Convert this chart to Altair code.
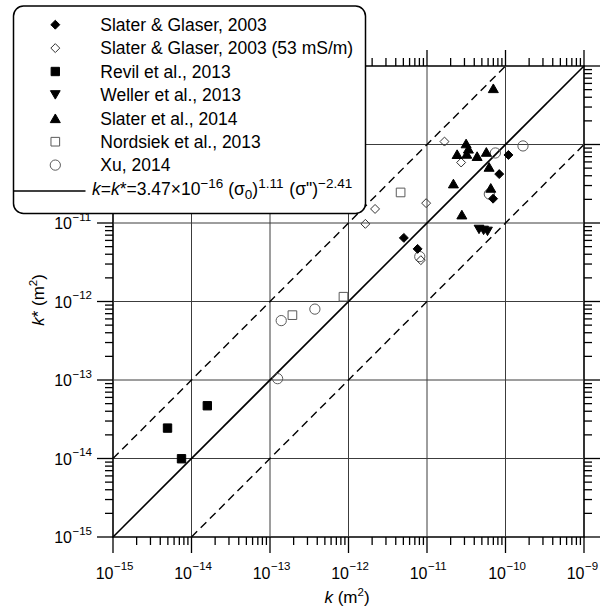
import altair as alt
import pandas as pd

FONT = "Liberation Sans"
W, H = 471, 471

# ---------------- data (k, k* in m^2) ----------------
series = [
    "Slater & Glaser, 2003",
    "Slater & Glaser, 2003 (53 mS/m)",
    "Revil et al., 2013",
    "Weller et al., 2013",
    "Slater et al., 2014",
    "Nordsiek et al., 2013",
    "Xu, 2014",
]
sg03_k = [1.09e-10, 8.32e-11, 6.95e-11, 5.07e-12, 7.59e-12]
sg03_kstar = [7.36e-11, 4.20e-11, 2.04e-11, 6.46e-12, 4.68e-12]
sg03b_k = [1.67e-11, 2.72e-11, 9.75e-12, 2.18e-12, 1.64e-12, 8.34e-12]
sg03b_kstar = [1.09e-10, 5.90e-11, 1.79e-11, 1.51e-11, 9.75e-12, 3.36e-12]
revil_k = [1.59e-14, 4.95e-15, 7.46e-15]
revil_kstar = [4.70e-14, 2.44e-14, 9.93e-15]
weller_k = [4.60e-11, 5.26e-11, 5.90e-11]
weller_kstar = [8.28e-12, 8.05e-12, 7.82e-12]
slater14_k = [7.00e-11, 3.15e-11, 2.42e-11, 3.37e-11, 3.21e-11, 4.35e-11,
              5.70e-11, 6.18e-11, 2.17e-11, 6.49e-11, 2.78e-11]
slater14_kstar = [5.20e-10, 1.03e-10, 7.53e-11, 8.83e-11, 7.59e-11, 7.11e-11,
                  8.04e-11, 5.18e-11, 3.18e-11, 2.80e-11, 1.28e-11]
nord_k = [4.61e-12, 8.63e-13, 1.93e-13]
nord_kstar = [2.45e-11, 1.15e-12, 6.70e-13]
xu_k = [1.67e-10, 7.43e-11, 6.22e-11, 8.09e-12, 3.73e-13, 1.39e-13, 1.25e-13]
xu_kstar = [9.59e-11, 7.80e-11, 2.34e-11, 3.73e-12, 8.00e-13, 5.71e-13, 1.04e-13]

k_lists = [sg03_k, sg03b_k, revil_k, weller_k, slater14_k, nord_k, xu_k]
kstar_lists = [sg03_kstar, sg03b_kstar, revil_kstar, weller_kstar, slater14_kstar, nord_kstar, xu_kstar]

decade_exps = [-15, -14, -13, -12, -11, -10, -9]
minor_mults = [2, 3, 4, 5, 6, 7, 8, 9]
LO, HI = 1e-15, 1e-9

# model lines: k* = k, and factor-of-ten bounds
line_solid_k = [1e-15, 1e-9]
line_solid_kstar = [1e-15, 1e-9]
line_up_k = [1e-15, 1e-10]
line_up_kstar = [1e-14, 1e-9]
line_lo_k = [1e-14, 1e-9]
line_lo_kstar = [1e-15, 1e-10]

# ---------------- styles ----------------
shapes = ["diamond", "diamond", "square", "triangle-down", "triangle-up", "square", "circle"]
fills = ["black", "transparent", "black", "black", "black", "transparent", "transparent"]
leg_fills = ["black", "white", "black", "black", "black", "white", "white"]
strokes = ["black", "#333333", "black", "black", "black", "#5a5a5a", "#5a5a5a"]
sizes = [80, 80, 70, 95, 100, 75, 105]
draw_order = [5, 6, 1, 0, 2, 3, 4]  # open markers first

decades = [10.0 ** e for e in decade_exps]
minors = [m * 10.0 ** e for e in decade_exps[:-1] for m in minor_mults]

rows = []
# outward axis ticks: line symbols anchored on the frame, pointing outwards
MAJ, MIN = 16, 8
for vals, ln in [(decades, MAJ), (minors, MIN)]:
    for v in vals:
        for kk, ks, path in [(v, LO, "M0,0L0,2"), (v, HI, "M0,0L0,-2"),
                             (LO, v, "M0,0L-2,0"), (HI, v, "M0,0L2,0")]:
            rows.append(dict(series="tick", k=kk, kstar=ks, shape=path, fill="transparent",
                             stroke="black", size=ln * ln, sw=1.3))
for i in draw_order:
    for kv, ksv in zip(k_lists[i], kstar_lists[i]):
        rows.append(dict(series=series[i], k=kv, kstar=ksv, shape=shapes[i],
                         fill=fills[i], stroke=strokes[i], size=sizes[i], sw=1.0))
pts = pd.DataFrame(rows)

xs = alt.Scale(type="log", domain=[LO, HI], nice=False)
ys = alt.Scale(type="log", domain=[LO, HI], nice=False)
inner_df = pd.DataFrame({"v": decades[1:-1]})

lines_df = pd.DataFrame({
    "k": line_solid_k + line_up_k + line_lo_k,
    "kstar": line_solid_kstar + line_up_kstar + line_lo_kstar,
    "grp": ["solid"] * 2 + ["up"] * 2 + ["lo"] * 2,
})

X = lambda f: alt.X(f, scale=xs, axis=None)
Y = lambda f: alt.Y(f, scale=ys, axis=None)

# gridlines
grid_v = alt.Chart(inner_df).mark_rule(color="#3c3c3c", strokeWidth=1).encode(
    x=X("v:Q"), y=alt.value(0), y2=alt.value(H))
grid_h = alt.Chart(inner_df).mark_rule(color="#3c3c3c", strokeWidth=1).encode(
    y=Y("v:Q"), x=alt.value(0), x2=alt.value(W))

solid = alt.Chart(lines_df[lines_df.grp == "solid"]).mark_line(
    color="black", strokeWidth=1.6).encode(x=X("k:Q"), y=Y("kstar:Q"))
dashed = alt.Chart(lines_df[lines_df.grp != "solid"]).mark_line(
    color="black", strokeWidth=1.4, strokeDash=[8, 5]).encode(
    x=X("k:Q"), y=Y("kstar:Q"), detail="grp:N")
points = alt.Chart(pts).mark_point(opacity=1).encode(
    x=X("k:Q"), y=Y("kstar:Q"),
    shape=alt.Shape("shape:N", scale=None, legend=None),
    fill=alt.Fill("fill:N", scale=None, legend=None),
    stroke=alt.Stroke("stroke:N", scale=None, legend=None),
    size=alt.Size("size:Q", scale=None, legend=None),
    strokeWidth=alt.StrokeWidth("sw:Q", scale=None, legend=None),
)

# ---------------- tick labels 10^n ----------------
lab = pd.DataFrame({"v": decades, "base": ["10"] * len(decades),
                    "exp": ["\u2212" + str(abs(e)) for e in decade_exps]})
xl_base = alt.Chart(lab).mark_text(font=FONT, fontSize=16, align="right", baseline="alphabetic",
                                   dx=0.5, color="black").encode(
    x=X("v:Q"), y=alt.value(H + 42), text="base:N")
xl_exp = alt.Chart(lab).mark_text(font=FONT, fontSize=11.5, align="left", baseline="alphabetic",
                                  dx=1, color="black").encode(
    x=X("v:Q"), y=alt.value(H + 33), text="exp:N")
yl_base = alt.Chart(lab).mark_text(font=FONT, fontSize=16, align="right", baseline="alphabetic",
                                   dy=6, color="black").encode(
    y=Y("v:Q"), x=alt.value(-41), text="base:N")
yl_exp = alt.Chart(lab).mark_text(font=FONT, fontSize=11.5, align="left", baseline="alphabetic",
                                  dy=-2.5, color="black").encode(
    y=Y("v:Q"), x=alt.value(-40.5), text="exp:N")

# ---------------- rich text helpers (Arial/Liberation metrics) ----------------
WID = {" ": 278, '"': 355, "(": 333, ")": 333, "*": 389, ".": 278, "=": 584,
       "\u00d7": 584, "\u2212": 584, "\u03c3": 617, "k": 500, "m": 833}
for d in "0123456789":
    WID[d] = 556


def tw(s, fs):
    return sum(WID.get(c, 556) for c in s) * fs / 1000.0


def strip_lead(t, fs):
    s = t.lstrip(" ")
    return s, tw(t[: len(t) - len(s)], fs)


def layout_h(segs, x0, y0):
    out, x = [], x0
    for t, fs, it, dy in segs:
        s, off = strip_lead(t, fs)
        out.append(dict(text=s, x=x + off, y=y0 + dy, size=fs, italic=it))
        x += tw(t, fs)
    return out


def layout_v(segs, bx, cy):
    total = sum(tw(t, fs) for t, fs, it, dy in segs)
    out, y = [], cy + total / 2
    for t, fs, it, dy in segs:
        s, off = strip_lead(t, fs)
        out.append(dict(text=s, x=bx + dy, y=y - off, size=fs, italic=it))
        y -= tw(t, fs)
    return out


def text_layers(rows_, angle=0):
    tdf = pd.DataFrame(rows_)
    layers_ = []
    for it, style in [(False, "normal"), (True, "italic")]:
        sub = tdf[tdf.italic == it]
        if len(sub) == 0:
            continue
        layers_.append(alt.Chart(sub).mark_text(
            font=FONT, align="left", baseline="alphabetic", fontStyle=style,
            angle=angle, color="black").encode(
            x=alt.X("x:Q", scale=None, axis=None),
            y=alt.Y("y:Q", scale=None, axis=None),
            text="text:N",
            size=alt.Size("size:Q", scale=None, legend=None)))
    return layers_


xtitle_segs = [("k", 17, True, 0), (" (m", 17, False, 0), ("2", 11.5, False, -7), (")", 17, False, 0)]
ytitle_segs = [("k", 17, True, 0), ("* (m", 17, False, 0), ("2", 11.5, False, -7), (")", 17, False, 0)]
xt_rows = layout_h(xtitle_segs, 234 - sum(tw(t, f) for t, f, i, d in xtitle_segs) / 2, 537)
yt_rows = layout_v(ytitle_segs, -69, 234)

# ---------------- legend ----------------
FS = 17.5
SP = 13.5
formula_segs = [
    ("k", FS, True, 0), ("=", FS, False, 0), ("k", FS, True, 0),
    ("*=3.47\u00d710", FS, False, 0), ("\u221216", SP, False, -7.5),
    (" (\u03c3", FS, False, 0), ("0", SP, False, 4), (")", FS, False, 0),
    ("1.11", SP, False, -7.5), (" (\u03c3\")", FS, False, 0), ("\u22122.41", SP, False, -7.5),
]
formula_rows = layout_h(formula_segs, -21, 129)

leg = pd.DataFrame({"label": series, "shape": shapes, "fill": leg_fills,
                    "stroke": strokes, "size": sizes})
leg["idx"] = range(len(leg))
leg["sy"] = -41.3 + 23.4 * leg["idx"]
leg["ty"] = -35.0 + 23.4 * leg["idx"]
leg["sx"] = -57.7
leg["tx"] = -12.7

one = pd.DataFrame({"a": [0]})
leg_box = alt.Chart(one).mark_rect(cornerRadius=10, fill="white", stroke="black",
                                   strokeWidth=1.5).encode(
    x=alt.value(-99.5), x2=alt.value(252.5), y=alt.value(-60), y2=alt.value(147.5))
leg_sym = alt.Chart(leg).mark_point(opacity=1, strokeWidth=1).encode(
    x=alt.X("sx:Q", scale=None, axis=None),
    y=alt.Y("sy:Q", scale=None, axis=None),
    shape=alt.Shape("shape:N", scale=None, legend=None),
    fill=alt.Fill("fill:N", scale=None, legend=None),
    stroke=alt.Stroke("stroke:N", scale=None, legend=None),
    size=alt.Size("size:Q", scale=None, legend=None))
leg_txt = alt.Chart(leg).mark_text(font=FONT, fontSize=FS, align="left", baseline="alphabetic",
                                   color="black").encode(
    x=alt.X("tx:Q", scale=None, axis=None),
    y=alt.Y("ty:Q", scale=None, axis=None),
    text="label:N")
leg_line = alt.Chart(one).mark_rule(color="black", strokeWidth=1.5).encode(
    x=alt.value(-99.5), x2=alt.value(-27.5), y=alt.value(125))

layers = [grid_v, grid_h, dashed, solid, points]
layers += [xl_base, xl_exp, yl_base, yl_exp]
layers += text_layers(xt_rows)
layers += text_layers(yt_rows, angle=270)
layers += [leg_box, leg_sym, leg_txt, leg_line]
layers += text_layers(formula_rows)

chart = alt.layer(*layers).properties(
    width=W, height=H,
    autosize=alt.AutoSizeParams(type="none"),
    padding={"left": 113, "top": 66, "right": 27, "bottom": 71},
).configure_view(stroke="black", strokeWidth=1.6)

chart.save("out.html", embed_options={"renderer": "svg", "actions": False})
